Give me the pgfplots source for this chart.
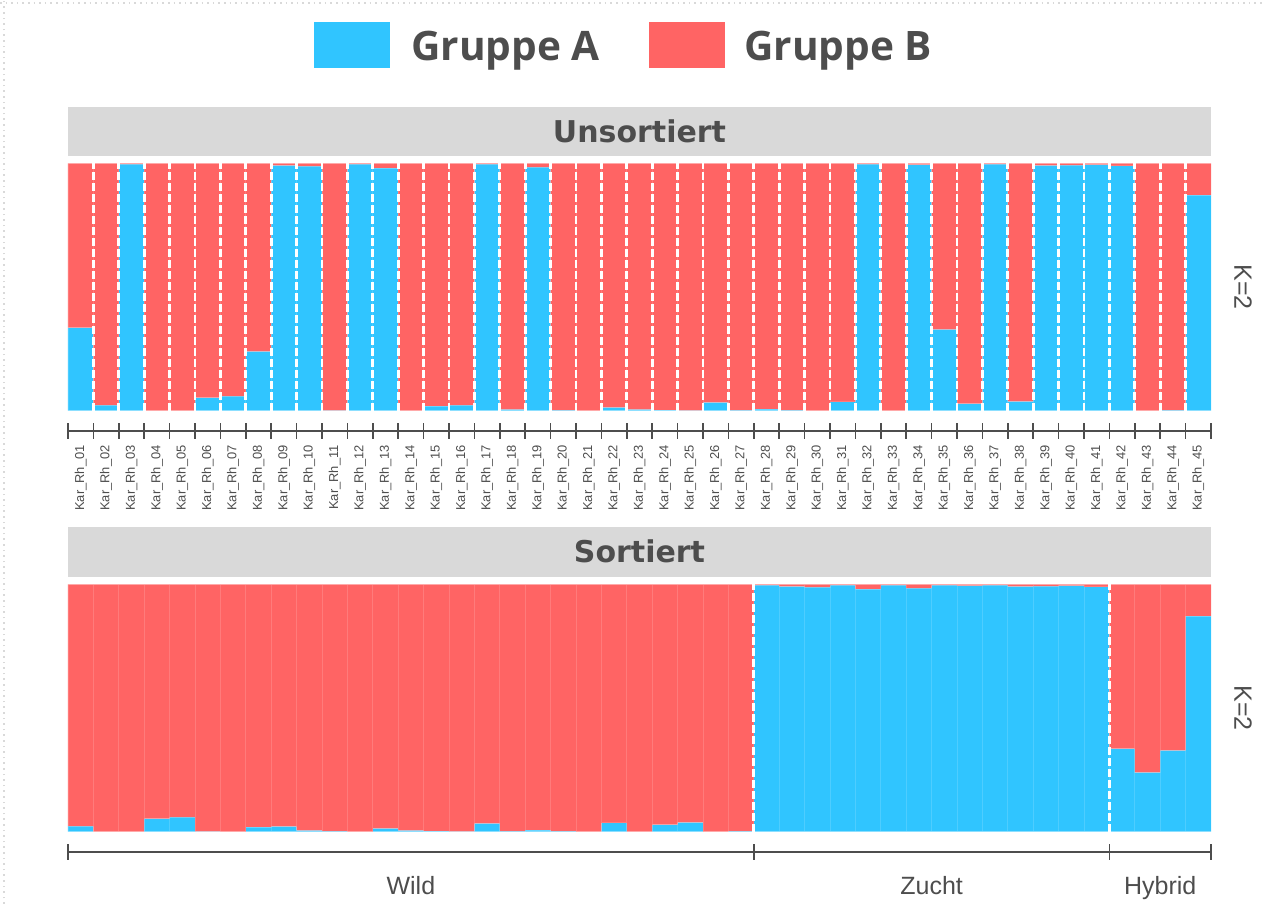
\documentclass[border=0pt]{standalone}
\usepackage{fontspec}
\setmainfont{Liberation Sans}
\newfontfamily\osans{Open Sans}
\newfontfamily\dejavu{DejaVu Sans}
\usepackage{pgfplots}
\usepackage{pgfplotstable}
\pgfplotsset{compat=1.18}
\definecolor{grpA}{HTML}{30C5FF}
\definecolor{grpB}{HTML}{FF6464}
\definecolor{stripgray}{HTML}{D9D9D9}
\definecolor{txt}{HTML}{4D4D4D}

% Unsorted: individuals Kar_Rh_01 ... Kar_Rh_45
\pgfplotstableread{
x    A     B
0.5  0.336 0.664
1.5  0.023 0.977
2.5  0.997 0.003
3.5  0.000 1.000
4.5  0.000 1.000
5.5  0.053 0.947
6.5  0.059 0.941
7.5  0.240 0.760
8.5  0.992 0.008
9.5  0.989 0.011
10.5 0.001 0.999
11.5 0.997 0.003
12.5 0.981 0.019
13.5 0.000 1.000
14.5 0.019 0.981
15.5 0.022 0.978
16.5 0.997 0.003
17.5 0.005 0.995
18.5 0.985 0.015
19.5 0.002 0.998
20.5 0.000 1.000
21.5 0.013 0.987
22.5 0.005 0.995
23.5 0.003 0.997
24.5 0.001 0.999
25.5 0.034 0.966
26.5 0.002 0.998
27.5 0.007 0.993
28.5 0.002 0.998
29.5 0.000 1.000
30.5 0.036 0.964
31.5 0.997 0.003
32.5 0.000 1.000
33.5 0.995 0.005
34.5 0.329 0.671
35.5 0.029 0.971
36.5 0.997 0.003
37.5 0.038 0.962
38.5 0.992 0.008
39.5 0.993 0.007
40.5 0.995 0.005
41.5 0.990 0.010
42.5 0.000 1.000
43.5 0.002 0.998
44.5 0.872 0.128
}\unsorted

% Sorted: Wild (27), Zucht (14), Hybrid (4)
\pgfplotstableread{
x    A     B
0.5  0.023 0.977
1.5  0.000 1.000
2.5  0.000 1.000
3.5  0.053 0.947
4.5  0.059 0.941
5.5  0.001 0.999
6.5  0.000 1.000
7.5  0.019 0.981
8.5  0.022 0.978
9.5  0.005 0.995
10.5 0.002 0.998
11.5 0.000 1.000
12.5 0.013 0.987
13.5 0.005 0.995
14.5 0.003 0.997
15.5 0.001 0.999
16.5 0.034 0.966
17.5 0.002 0.998
18.5 0.007 0.993
19.5 0.002 0.998
20.5 0.000 1.000
21.5 0.036 0.964
22.5 0.000 1.000
23.5 0.029 0.971
24.5 0.038 0.962
25.5 0.000 1.000
26.5 0.002 0.998
27.5 0.997 0.003
28.5 0.992 0.008
29.5 0.989 0.011
30.5 0.997 0.003
31.5 0.981 0.019
32.5 0.997 0.003
33.5 0.985 0.015
34.5 0.997 0.003
35.5 0.995 0.005
36.5 0.997 0.003
37.5 0.992 0.008
38.5 0.993 0.007
39.5 0.995 0.005
40.5 0.990 0.010
41.5 0.336 0.664
42.5 0.240 0.760
43.5 0.329 0.671
44.5 0.872 0.128
}\sorted

\begin{document}
\begin{tikzpicture}
\useasboundingbox (0,0) rectangle (632pt,452pt);
% faint page edge
\draw[gray!30, dotted, line width=0.8pt] (2pt,0) -- (2pt,452pt);
\draw[gray!30, dotted, line width=0.8pt] (0,450.5pt) -- (632pt,450.5pt);

% legend
\fill[grpA] (157pt,418pt) rectangle (195pt,441pt);
\node[anchor=base west, inner sep=0pt, text=txt, font=\osans\bfseries\fontsize{20.3}{24}\selectfont] at (205.5pt,421.8pt) {Gruppe A};
\fill[grpB] (324.5pt,418pt) rectangle (362.5pt,441pt);
\node[anchor=base west, inner sep=0pt, text=txt, font=\osans\bfseries\fontsize{20.3}{24}\selectfont] at (372pt,421.8pt) {Gruppe B};

% strips
\fill[stripgray] (34pt,374pt) rectangle (605.5pt,398.5pt);
\node[anchor=base, inner sep=0pt, text=txt, font=\dejavu\bfseries\fontsize{15}{18}\selectfont] at (319.75pt,380.65pt) {Unsortiert};
\fill[stripgray] (34pt,163.5pt) rectangle (605.5pt,188.5pt);
\node[anchor=base, inner sep=0pt, text=txt, font=\dejavu\bfseries\fontsize{15}{18}\selectfont] at (319.75pt,170.65pt) {Sortiert};

% K=2 labels
\node[rotate=-90, inner sep=0pt, text=txt, font=\fontsize{12.5}{14}\selectfont] at (621.5pt,308.5pt) {K=2};
\node[rotate=-90, inner sep=0pt, text=txt, font=\fontsize{12.5}{14}\selectfont] at (621.5pt,98pt) {K=2};

% top panel
\begin{axis}[
  at={(34pt,246.65pt)}, anchor=south west,
  scale only axis, width=571.5pt, height=123.7pt,
  xmin=0, xmax=45, ymin=0, ymax=1,
  enlarge x limits=false, enlarge y limits=false,
  ybar stacked, bar width=1, reverse stacked plots=false,
  axis x line*=bottom, axis y line=none,
  axis x line shift=10.15pt,
  axis line style={draw=txt, line width=1pt},
  xtick={0.5,1.5,...,44.5},
  xticklabels={Kar\_Rh\_01,Kar\_Rh\_02,Kar\_Rh\_03,Kar\_Rh\_04,Kar\_Rh\_05,Kar\_Rh\_06,Kar\_Rh\_07,Kar\_Rh\_08,Kar\_Rh\_09,Kar\_Rh\_10,Kar\_Rh\_11,Kar\_Rh\_12,Kar\_Rh\_13,Kar\_Rh\_14,Kar\_Rh\_15,Kar\_Rh\_16,Kar\_Rh\_17,Kar\_Rh\_18,Kar\_Rh\_19,Kar\_Rh\_20,Kar\_Rh\_21,Kar\_Rh\_22,Kar\_Rh\_23,Kar\_Rh\_24,Kar\_Rh\_25,Kar\_Rh\_26,Kar\_Rh\_27,Kar\_Rh\_28,Kar\_Rh\_29,Kar\_Rh\_30,Kar\_Rh\_31,Kar\_Rh\_32,Kar\_Rh\_33,Kar\_Rh\_34,Kar\_Rh\_35,Kar\_Rh\_36,Kar\_Rh\_37,Kar\_Rh\_38,Kar\_Rh\_39,Kar\_Rh\_40,Kar\_Rh\_41,Kar\_Rh\_42,Kar\_Rh\_43,Kar\_Rh\_44,Kar\_Rh\_45},
  major tick length=0pt,
  minor xtick={0,1,...,45},
  minor tick length=8pt, tick align=center,
  minor tick style={draw=txt, line width=0.8pt},
  xticklabel style={rotate=90, anchor=east, inner sep=0pt, text=txt, font=\fontsize{6.45}{7}\selectfont},
  xticklabel shift=7pt,
  ytick=\empty,
  clip=false,
]
\addplot[fill=grpA, draw=white, draw opacity=0.15, line width=0.4pt] table[x=x, y=A] {\unsorted};
\addplot[fill=grpB, draw=white, draw opacity=0.15, line width=0.4pt] table[x=x, y=B] {\unsorted};
\pgfplotsinvokeforeach{1,...,44}{
  \draw[white, line width=1.35pt, dash pattern=on 3.6pt off 1.9pt] (axis cs:#1,0) -- (axis cs:#1,1);
}
\end{axis}

% bottom panel
\begin{axis}[
  at={(34pt,36.15pt)}, anchor=south west,
  scale only axis, width=571.5pt, height=123.7pt,
  xmin=0, xmax=45, ymin=0, ymax=1,
  enlarge x limits=false, enlarge y limits=false,
  ybar stacked, bar width=1, reverse stacked plots=false,
  axis x line*=bottom, axis y line=none,
  axis x line shift=10pt,
  axis line style={draw=txt, line width=1pt},
  xtick={13.5,34,43},
  xticklabels={Wild,Zucht,Hybrid},
  major tick length=0pt,
  minor xtick={0,27,41,45},
  minor tick length=8pt, tick align=center,
  minor tick style={draw=txt, line width=0.8pt},
  xticklabel style={anchor=north, inner sep=0pt, text=txt, font=\fontsize{12.5}{14}\selectfont},
  xticklabel shift=12pt,
  ytick=\empty,
  clip=false,
]
\addplot[fill=grpA, draw=white, draw opacity=0.15, line width=0.4pt] table[x=x, y=A] {\sorted};
\addplot[fill=grpB, draw=white, draw opacity=0.15, line width=0.4pt] table[x=x, y=B] {\sorted};
\pgfplotsinvokeforeach{27,41}{
  \draw[white, line width=1.35pt, dash pattern=on 3.6pt off 1.9pt] (axis cs:#1,0) -- (axis cs:#1,1);
}
\end{axis}
\end{tikzpicture}
\end{document}
